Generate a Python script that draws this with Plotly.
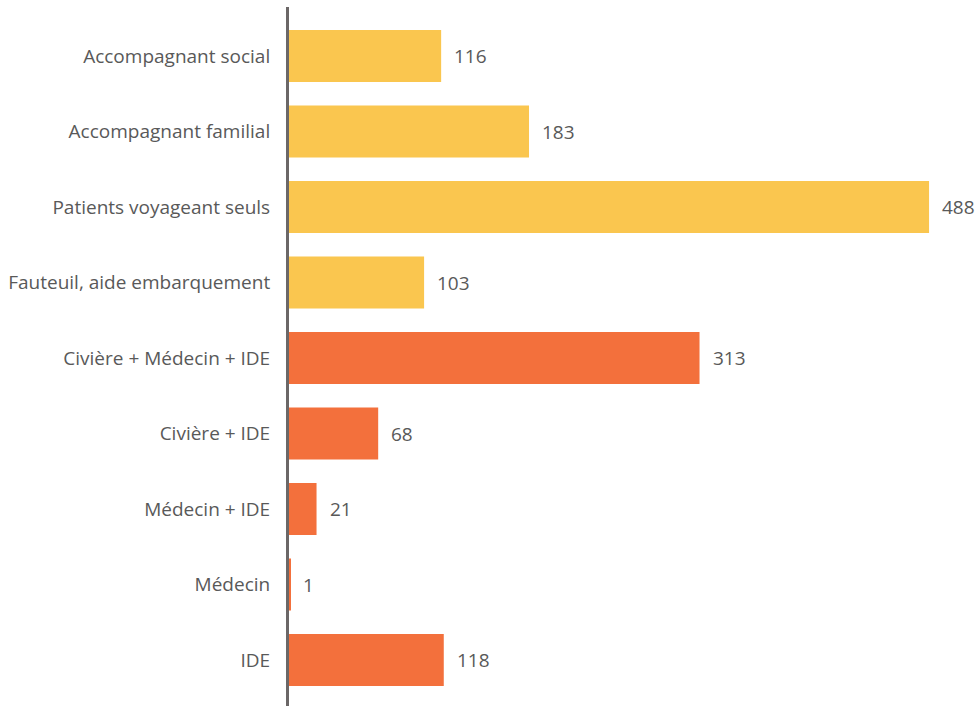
import plotly.graph_objects as go

categories = ["Accompagnant social", "Accompagnant familial", "Patients voyageant seuls",
              "Fauteuil, aide embarquement", "Civière + Médecin + IDE", "Civière + IDE",
              "Médecin + IDE", "Médecin", "IDE"]
values = [116, 183, 488, 103, 313, 68, 21, 1, 118]
groups = ["a", "a", "a", "a", "b", "b", "b", "b", "b"]

color_map = {"a": "#FAC64F", "b": "#F3703C"}
colors = [color_map[g] for g in groups]

fig = go.Figure()
fig.add_trace(go.Bar(
    y=categories, x=values, orientation="h",
    marker=dict(color=colors, line=dict(width=0)),
    width=0.69, hoverinfo="skip",
))

for c, v in zip(categories, values):
    fig.add_annotation(x=v, y=c, text=str(v), showarrow=False, xanchor="left",
                       xshift=11, font=dict(family="Open Sans", size=19, color="#595959"))

fig.update_layout(
    width=977, height=706,
    margin=dict(l=289, r=20, t=7, b=0),
    plot_bgcolor="white", paper_bgcolor="white",
    showlegend=False,
    font=dict(family="Open Sans", size=19, color="#595959"),
    xaxis=dict(range=[0, 509.3], visible=False, showgrid=False, zeroline=False),
    yaxis=dict(categoryorder="array", categoryarray=categories,
               range=[8.609, -0.649], showgrid=False, zeroline=False,
               showline=True, linecolor="#6b6767", linewidth=3,
               ticks="", ticklabelstandoff=12,
               tickfont=dict(family="Open Sans", size=19, color="#595959")),
)

fig.write_html("out.html", config={"displayModeBar": False},
               post_script="document.body.style.margin='0';document.body.style.overflow='hidden';")
